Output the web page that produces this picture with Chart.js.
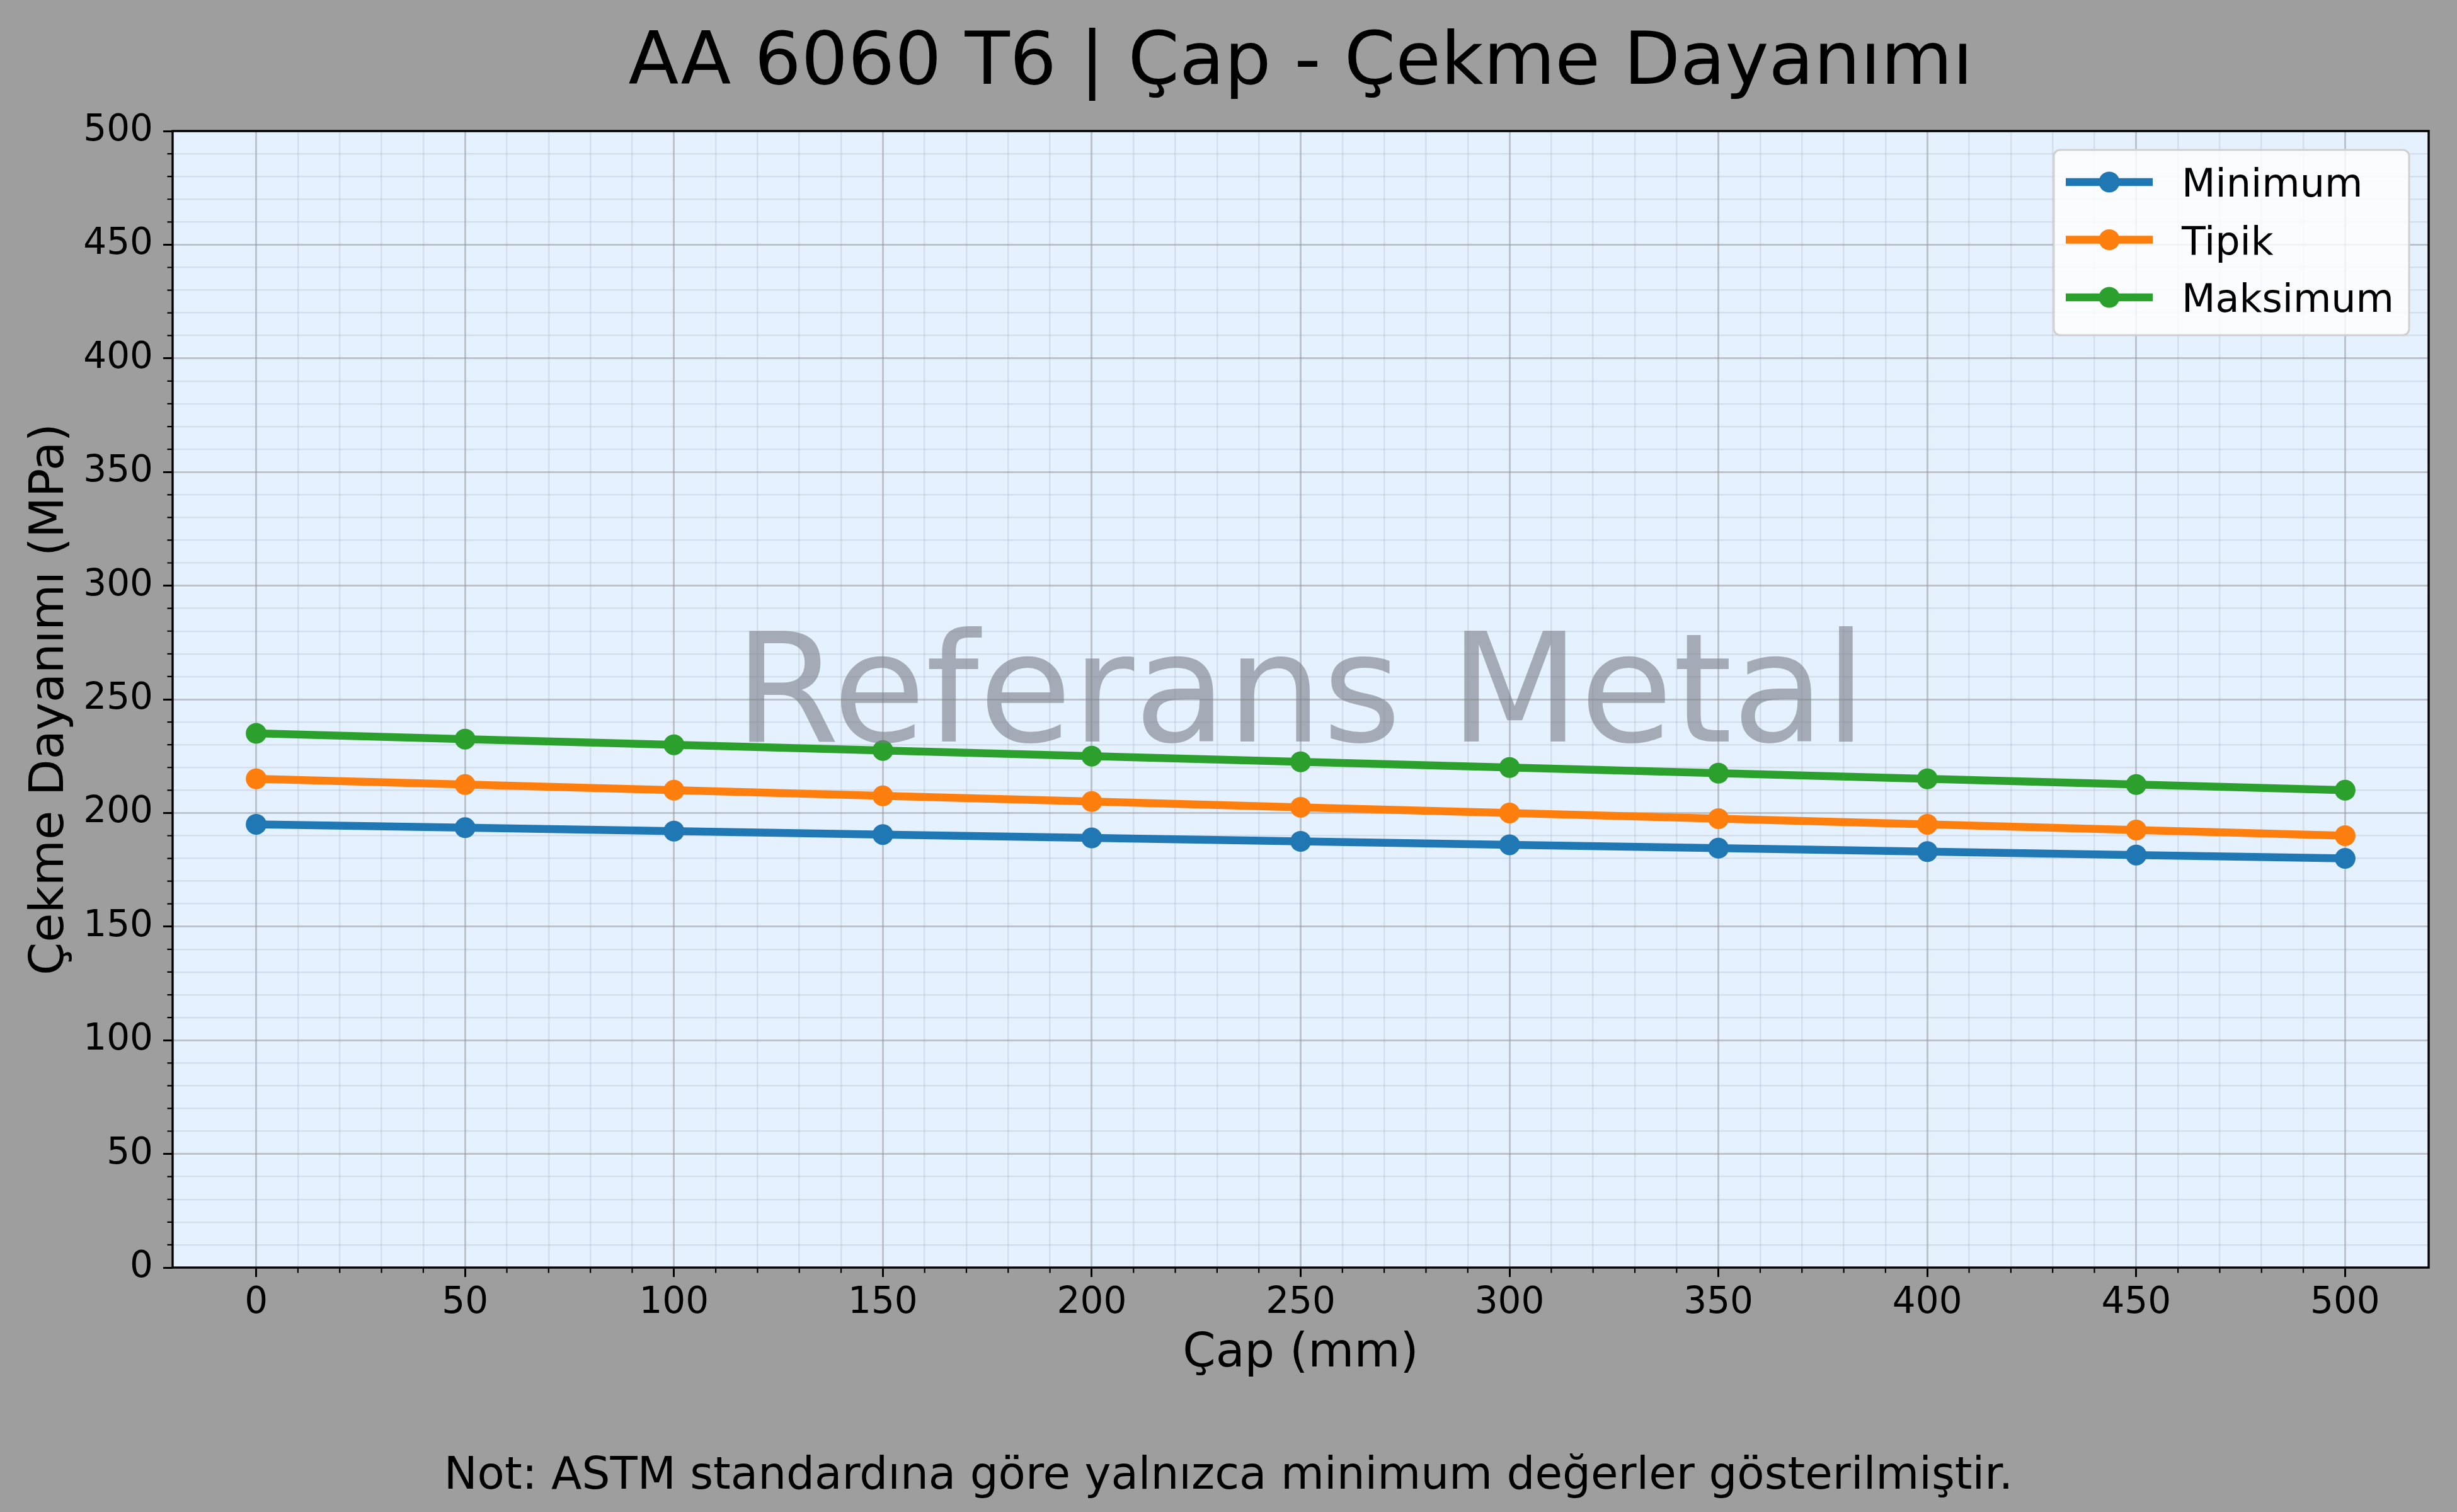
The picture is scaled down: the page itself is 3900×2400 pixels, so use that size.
<!DOCTYPE html>
<html>
<head>
<meta charset="utf-8">
<title>AA 6060 T6 | Çap - Çekme Dayanımı</title>
<script src="https://cdn.jsdelivr.net/npm/chart.js@4.4.1/dist/chart.umd.min.js"></script>
<style>
  html, body { margin: 0; padding: 0; background: #9e9e9e; }
  canvas { display: block; }
</style>
</head>
<body>
<canvas id="chart" width="3900" height="2400" style="width:3900px;height:2400px"></canvas>
<script>
// values
const diameters = [0, 50, 100, 150, 200, 250, 300, 350, 400, 450, 500];
const minimumValues = [195, 193.5, 192, 190.5, 189, 187.5, 186, 184.5, 183, 181.5, 180];
const typicalValues = [215, 212.5, 210, 207.5, 205, 202.5, 200, 197.5, 195, 192.5, 190];
const maximumValues = [235, 232.5, 230, 227.5, 225, 222.5, 220, 217.5, 215, 212.5, 210];
const seriesNames = ["Minimum", "Tipik", "Maksimum"];
const seriesColors = ["#1f77b4", "#ff7f0e", "#2ca02c"];

const TITLE = "AA 6060 T6 | Çap - Çekme Dayanımı";
const X_LABEL = "Çap (mm)";
const Y_LABEL = "Çekme Dayanımı (MPa)";
const NOTE = "Not: ASTM standardına göre yalnızca minimum değerler gösterilmiştir.";
const WATERMARK = "Referans Metal";

const FONT = '"DejaVu Sans", "Liberation Sans", sans-serif';
const FIG_BG = "#9e9e9e";
const AX_BG = "#e5f1fe";
const MAJOR_GRID = "rgba(150,150,150,0.5)";
const MINOR_GRID = "rgba(170,175,190,0.28)";

const toPoints = vals => vals.map((v, i) => ({ x: diameters[i], y: v }));

const isMajor = v => Math.abs(v % 50) < 1e-9;

const decor = {
  id: "decor",
  beforeDraw(chart) {
    const { ctx, chartArea: a } = chart;
    ctx.save();
    ctx.fillStyle = FIG_BG;
    ctx.fillRect(0, 0, chart.width, chart.height);
    ctx.fillStyle = AX_BG;
    ctx.fillRect(a.left, a.top, a.right - a.left, a.bottom - a.top);
    ctx.restore();
  },
  afterDatasetsDraw(chart) {
    const { ctx, chartArea: a, scales } = chart;
    const cx = (a.left + a.right) / 2;
    ctx.save();

    // minor tick marks
    ctx.strokeStyle = "#000";
    ctx.lineWidth = 2.2;
    ctx.beginPath();
    for (let v = 10; v < 500; v += 10) {
      if (isMajor(v)) continue;
      const px = scales.x.getPixelForValue(v);
      ctx.moveTo(px, a.bottom);
      ctx.lineTo(px, a.bottom + 8.5);
      const py = scales.y.getPixelForValue(v);
      ctx.moveTo(a.left - 8.5, py);
      ctx.lineTo(a.left, py);
    }
    ctx.stroke();

    // spines
    ctx.lineWidth = 3.4;
    ctx.strokeRect(a.left, a.top, a.right - a.left, a.bottom - a.top);

    // watermark on top of the lines
    ctx.fillStyle = "rgba(120,125,135,0.6)";
    ctx.font = `240px ${FONT}`;
    ctx.textAlign = "center";
    ctx.textBaseline = "alphabetic";
    ctx.fillText(WATERMARK, cx, 1177);

    // legend
    const boxR = a.right - 31, boxT = a.top + 30, boxW = 564, boxH = 294;
    const boxL = boxR - boxW;
    ctx.beginPath();
    ctx.roundRect(boxL, boxT, boxW, boxH, 10);
    ctx.fillStyle = "rgba(255,255,255,0.8)";
    ctx.fill();
    ctx.lineWidth = 3;
    ctx.strokeStyle = "#d0d0d0";
    ctx.stroke();
    ctx.font = `62px ${FONT}`;
    ctx.textAlign = "left";
    chart.data.datasets.forEach((ds, i) => {
      const ry = boxT + 51 + i * 91.5;
      ctx.strokeStyle = ds.borderColor;
      ctx.lineWidth = 12.5;
      ctx.beginPath();
      ctx.moveTo(boxL + 19, ry);
      ctx.lineTo(boxL + 157, ry);
      ctx.stroke();
      ctx.fillStyle = ds.borderColor;
      ctx.beginPath();
      ctx.arc(boxL + 88, ry, 16.5, 0, Math.PI * 2);
      ctx.fill();
      ctx.fillStyle = "#000";
      ctx.fillText(ds.label, boxL + 203, ry + 23);
    });

    // titles and note
    ctx.fillStyle = "#000";
    ctx.textAlign = "center";
    ctx.font = `116.7px ${FONT}`;
    ctx.fillText(TITLE, cx, 133);
    ctx.font = `75px ${FONT}`;
    ctx.fillText(X_LABEL, cx, 2169);
    ctx.font = `70.8px ${FONT}`;
    ctx.fillText(NOTE, chart.width / 2, 2363);
    ctx.font = `75px ${FONT}`;
    ctx.translate(100, (a.top + a.bottom) / 2);
    ctx.rotate(-Math.PI / 2);
    ctx.fillText(Y_LABEL, 0, 0);
    ctx.restore();
  }
};

const gridOpts = lo => ({
  drawOnChartArea: true,
  color: c => (c.tick && c.tick.value >= lo && c.tick.value <= 500)
    ? (isMajor(c.tick.value) ? MAJOR_GRID : MINOR_GRID) : "rgba(0,0,0,0)",
  lineWidth: c => (c.tick && isMajor(c.tick.value)) ? 3 : 2.5,
  tickLength: 15,
  tickWidth: 3,
  tickColor: c => (c.tick && isMajor(c.tick.value) && c.tick.value >= 0 && c.tick.value <= 500) ? "#000" : "rgba(0,0,0,0)"
});

const tickFont = { family: FONT, size: 58 };

new Chart(document.getElementById("chart"), {
  type: "line",
  data: {
    datasets: [minimumValues, typicalValues, maximumValues].map((vals, i) => ({
      label: seriesNames[i],
      data: toPoints(vals),
      borderColor: seriesColors[i],
      backgroundColor: seriesColors[i],
      borderWidth: 12.5,
      pointRadius: 16.5,
      pointHoverRadius: 16.5,
      pointBorderWidth: 0,
      pointBackgroundColor: seriesColors[i],
      tension: 0,
      fill: false
    }))
  },
  options: {
    responsive: false,
    devicePixelRatio: 1,
    animation: false,
    events: [],
    layout: { padding: { top: 208, right: 45, left: 0, bottom: 0 } },
    plugins: { legend: { display: false }, tooltip: { enabled: false }, title: { display: false } },
    scales: {
      x: {
        type: "linear",
        min: -20,
        max: 520,
        border: { display: false },
        grid: gridOpts(0),
        ticks: {
          stepSize: 10,
          autoSkip: false,
          maxRotation: 0,
          includeBounds: false,
          padding: 7,
          color: "#000",
          font: tickFont,
          callback: v => (isMajor(v) && v >= 0 && v <= 500) ? String(v) : ""
        },
        afterFit: s => { s.height = 388; }
      },
      y: {
        type: "linear",
        min: 0,
        max: 500,
        border: { display: false },
        grid: gridOpts(0),
        ticks: {
          stepSize: 10,
          autoSkip: false,
          padding: 16,
          color: "#000",
          font: tickFont,
          callback: v => isMajor(v) ? String(v) : ""
        },
        afterFit: s => { s.width = 274; }
      }
    }
  },
  plugins: [decor]
});
</script>
</body>
</html>
